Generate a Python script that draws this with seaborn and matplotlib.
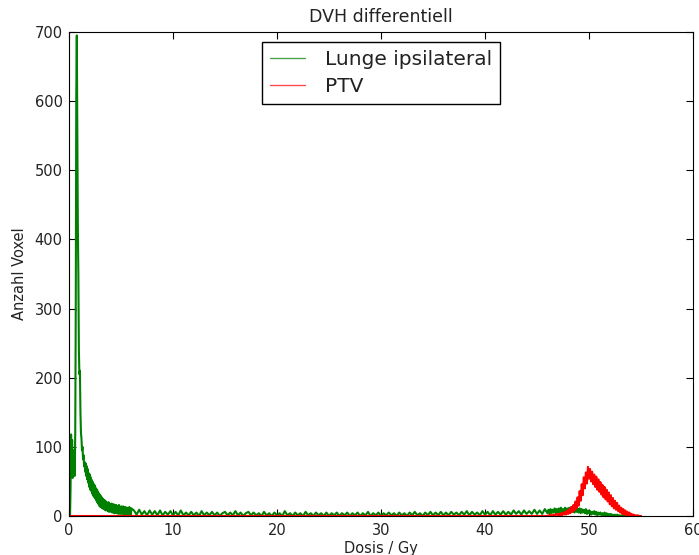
import numpy as np
import pandas as pd
import matplotlib
matplotlib.use("Agg")
import matplotlib.pyplot as plt
import seaborn as sns

# 1. Werte (Dosis in Gy, Anzahl Voxel pro Bin)
# Lunge ipsilateral: 0.00 - 1.50 Gy, Schritt 0.05
lunge_a_start, lunge_a_step = 0.0, 0.05
lunge_a = [0, 0, 0, 40, 118, 62, 110, 55, 95, 60, 85, 58, 120, 300, 610, 695,
           560, 420, 350, 240, 205, 210, 150, 120, 112, 95, 100, 82, 88, 72, 78]

# Lunge ipsilateral: 1.55 - 6.00 Gy, Schritt 0.05
lunge_b_start, lunge_b_step = 1.55, 0.05
lunge_b = [64, 76, 58, 72, 53, 68, 48, 62, 42, 60,
           38, 56, 36, 52, 32, 49, 29, 46, 27, 44,
           25, 40, 22, 38, 19, 35, 17, 32, 14, 30,
           13, 28, 12, 26, 11, 24, 10, 23, 9, 22,
           8, 20, 9, 19, 7, 20, 6, 18, 7, 17,
           6, 18, 5, 16, 6, 17, 4, 15, 5, 16,
           4, 15, 5, 14, 3, 16, 4, 13, 3, 14,
           4, 13, 3, 14, 2, 12, 3, 13, 2, 12,
           3, 12, 2, 11, 3, 13, 2, 11, 1, 11]

# Lunge ipsilateral: 6.25 - 46.00 Gy, Schritt 0.25
lunge_c_start, lunge_c_step = 6.25, 0.25
lunge_c = [8, 2, 9, 2, 7, 1, 8, 2, 7, 1, 8, 1, 6, 2, 7, 1, 6, 1, 8, 1,
           5, 1, 6, 1, 5, 0, 7, 1, 5, 1, 6, 1, 5, 0, 4, 6, 1, 5, 1, 7,
           1, 5, 0, 4, 6, 1, 5, 1, 4, 0, 6, 1, 4, 0, 5, 1, 4, 0, 7, 1,
           4, 0, 5, 1, 4, 0, 6, 1, 4, 0, 5, 1, 4, 0, 5, 0, 4, 1, 5, 0,
           4, 1, 5, 0, 4, 1, 5, 0, 4, 1, 6, 0, 4, 1, 5, 0, 4, 1, 5, 1,
           4, 0, 5, 1, 4, 0, 5, 1, 6, 1, 4, 0, 5, 1, 6, 1, 5, 1, 6, 1,
           5, 1, 6, 2, 5, 1, 6, 2, 7, 1, 6, 2, 5, 1, 7, 2, 6, 1, 7, 2,
           6, 2, 7, 2, 6, 2, 8, 3, 7, 2, 8, 3, 7, 3, 9, 3, 8, 3, 10, 4]

# Lunge ipsilateral: 46.1 - 55.0 Gy, Schritt 0.1
lunge_d_start, lunge_d_step = 46.1, 0.1
lunge_d = [9, 4, 10, 4, 9, 5, 11, 4, 10, 5,
           11, 5, 12, 5, 10, 6, 12, 5, 11, 6,
           12, 5, 13, 6, 11, 5, 12, 6, 11, 5,
           11, 4, 10, 5, 9, 4, 10, 3, 8, 4,
           7, 2, 6, 3, 7, 2, 6, 1, 5, 2,
           5, 1, 4, 1, 5, 0, 4, 0, 3, 0,
           3, 0, 2, 0, 2, 0, 2, 0, 1, 0,
           1, 0, 1, 0, 0, 1, 0, 0, 0, 0,
           0, 0, 0, 0, 0, 0, 0, 0, 0, 0]

# PTV: 0 - 46.0 Gy leer, danach 46.1 - 55.0 Gy, Schritt 0.1
ptv_leer_start, ptv_leer_step, ptv_leer_anzahl = 0.0, 0.1, 461
ptv_start, ptv_step = 46.1, 0.1
ptv = [1, 0, 2, 0, 1, 2, 0, 2, 3, 1,
       3, 1, 4, 1, 5, 2, 6, 2, 8, 3,
       10, 4, 13, 6, 16, 8, 21, 11, 27, 15,
       36, 22, 46, 30, 56, 40, 63, 47, 71, 54,
       68, 50, 64, 46, 60, 42, 57, 38, 53, 35,
       49, 31, 45, 27, 42, 24, 38, 21, 34, 17,
       30, 14, 26, 11, 22, 9, 19, 7, 15, 5,
       12, 3, 10, 2, 8, 1, 6, 1, 5, 0,
       3, 0, 2, 0, 1, 0, 1, 0, 0, 0]


def bins(start, step, n):
    return np.round(start + step * np.arange(n), 3)


# 2. Tabelle (long format) fuer seaborn bauen
lunge_dosis = np.concatenate([
    bins(lunge_a_start, lunge_a_step, len(lunge_a)),
    bins(lunge_b_start, lunge_b_step, len(lunge_b)),
    bins(lunge_c_start, lunge_c_step, len(lunge_c)),
    bins(lunge_d_start, lunge_d_step, len(lunge_d)),
])
lunge_werte = lunge_a + lunge_b + lunge_c + lunge_d

ptv_dosis = np.concatenate([
    bins(ptv_leer_start, ptv_leer_step, ptv_leer_anzahl),
    bins(ptv_start, ptv_step, len(ptv)),
])
ptv_werte = [0] * ptv_leer_anzahl + ptv

df = pd.concat([
    pd.DataFrame({"Dosis": lunge_dosis, "Voxel": lunge_werte, "Struktur": "Lunge ipsilateral"}),
    pd.DataFrame({"Dosis": ptv_dosis, "Voxel": ptv_werte, "Struktur": "PTV"}),
], ignore_index=True)

# 3. Stil (alter matplotlib-Look: Ticks innen, auf allen Seiten)
sns.set_style("white", rc={
    "axes.edgecolor": "black",
    "axes.linewidth": 1.0,
    "xtick.direction": "in",
    "ytick.direction": "in",
    "xtick.top": True,
    "ytick.right": True,
    "xtick.bottom": True,
    "ytick.left": True,
})
plt.rcParams["font.family"] = ["DejaVu Sans"]

fig = plt.figure(figsize=(6.99, 5.55), dpi=100)
ax = fig.add_axes([69 / 699, 39 / 555, 624 / 699, 484 / 555])

sns.lineplot(data=df, x="Dosis", y="Voxel", hue="Struktur",
             hue_order=["Lunge ipsilateral", "PTV"],
             palette={"Lunge ipsilateral": "green", "PTV": "red"},
             estimator=None, sort=False, linewidth=1.5, ax=ax)

ax.set_xlim(0, 60)
ax.set_ylim(0, 700)
ax.set_xticks([0, 10, 20, 30, 40, 50, 60])
ax.set_yticks([0, 100, 200, 300, 400, 500, 600, 700])
ax.tick_params(axis="both", which="major", length=5, width=0.8, labelsize=10.5,
               color="black", labelcolor="#222222")
ax.tick_params(axis="y", pad=4.5)
ax.tick_params(axis="x", pad=5)
for s in ax.spines.values():
    s.set_visible(True)
    s.set_color("black")

ax.set_title("DVH differentiell", fontsize=12.5, pad=7, color="#222222")
ax.set_xlabel("Dosis / Gy", fontsize=10.5, labelpad=2, color="#222222")
ax.set_ylabel("Anzahl Voxel", fontsize=10.5, labelpad=5.5, color="#222222")

# 4. Legende oben mittig (Linien in der Legende duenner)
handles, labels = ax.get_legend_handles_labels()
leg = ax.legend(handles, labels, loc="upper center", fontsize=14.5,
                handlelength=1.75, handletextpad=1.0, borderpad=0.4,
                labelspacing=0.4, borderaxespad=0.5, fancybox=False,
                framealpha=1, edgecolor="black")
leg.get_frame().set_linewidth(1.0)
for h in leg.get_lines():
    h.set_linewidth(1.0)
    h.set_alpha(0.7)
for t in leg.get_texts():
    t.set_color("#222222")

fig.savefig("out.png", dpi=100)
